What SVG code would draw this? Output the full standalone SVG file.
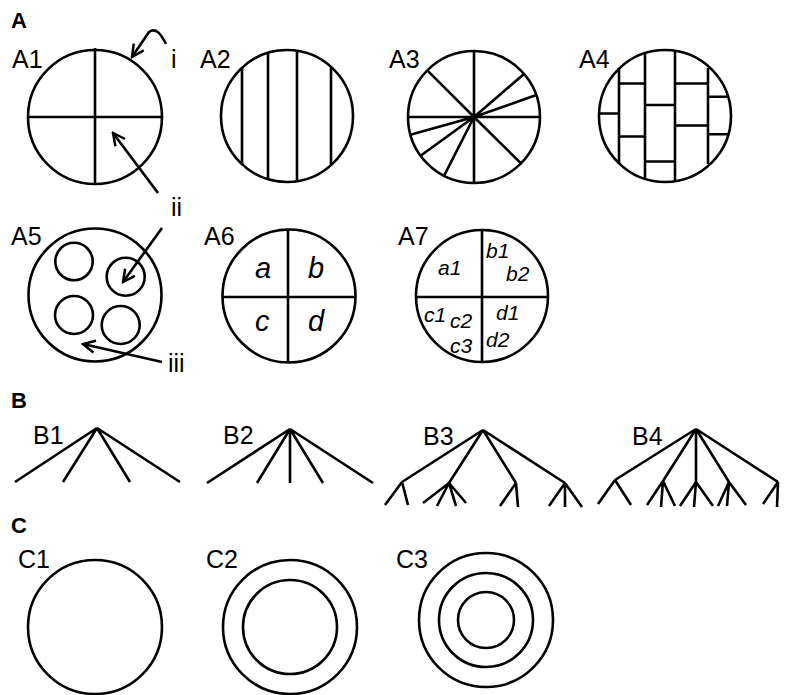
<svg xmlns="http://www.w3.org/2000/svg" width="787" height="695" viewBox="0 0 787 695">
<defs>
<style>
.s{fill:none;stroke:#000;stroke-width:2.6;stroke-linecap:butt}
.t{font-family:"Liberation Sans",Arial,sans-serif;font-size:25px;fill:#000}
.h{font-family:"Liberation Sans",Arial,sans-serif;font-size:22px;font-weight:bold;fill:#000}
.i{font-family:"Liberation Sans",Arial,sans-serif;font-size:29px;font-style:italic;fill:#000}
.j{font-family:"Liberation Sans",Arial,sans-serif;font-size:21px;font-style:italic;fill:#000}
</style>
<marker id="ah" viewBox="0 0 16 16" refX="14" refY="8" markerWidth="16" markerHeight="16" markerUnits="userSpaceOnUse" orient="auto">
<path d="M2,2 L14,8 L2,14" fill="none" stroke="#000" stroke-width="2.5"/>
</marker>
</defs>
<rect width="787" height="695" fill="#fff"/>

<text class="h" x="11" y="28">A</text>
<text class="h" x="11" y="408">B</text>
<text class="h" x="11" y="533">C</text>

<g id="A1">
<text class="t" x="12" y="68">A1</text>
<circle class="s" cx="95" cy="117" r="67"/>
<path class="s" d="M95,48 V184 M28,117 H162"/>
</g>

<g id="A2">
<text class="t" x="200" y="68">A2</text>
<circle class="s" cx="287" cy="116" r="66"/>
<path class="s" d="M242,67.7 V164.3 M268,53 V179 M297,51 V181 M331,67.5 V164.5"/>
</g>

<g id="A3">
<text class="t" x="389" y="68">A3</text>
<circle class="s" cx="474" cy="117" r="66"/>
<path class="s" d="M474,117 L474,51 M474,117 L474,183 M474,117 L408,117 M474,117 L540,117 M474,117 L427.3,70.3 M474,117 L524,74 M474,117 L536.3,95.1 M474,117 L410.4,134.7 M474,117 L420.6,155.8 M474,117 L444,175.8 M474,117 L521,163.4"/>
</g>

<g id="A4">
<text class="t" x="579" y="68">A4</text>
<circle class="s" cx="665" cy="116" r="66"/>
<path class="s" d="M619,68 V164 M645,53 V179 M675,51 V181 M708,68 V164 M619,83.5 H645 M599,113.5 H619 M619,136.5 H645 M645,105 H675 M645,161.5 H675 M675,83.5 H708 M675,125.5 H708 M708,96.7 H728 M708,134.3 H728.4"/>
</g>

<g id="A5">
<text class="t" x="11" y="245">A5</text>
<circle class="s" cx="95" cy="295" r="66.5"/>
<circle class="s" cx="74" cy="261.5" r="18.7"/>
<circle class="s" cx="125.7" cy="276.7" r="19"/>
<circle class="s" cx="74" cy="315" r="19"/>
<circle class="s" cx="120.7" cy="325" r="19"/>
</g>

<g id="A6">
<text class="t" x="204" y="245">A6</text>
<circle class="s" cx="289" cy="296" r="66.5"/>
<path class="s" d="M288,229.5 V362.5 M222.5,297 H355.5"/>
<text class="i" x="255" y="278">a</text>
<text class="i" x="308" y="278">b</text>
<text class="i" x="255" y="331">c</text>
<text class="i" x="308" y="331">d</text>
</g>

<g id="A7">
<text class="t" x="398" y="245">A7</text>
<circle class="s" cx="482" cy="296" r="66"/>
<path class="s" d="M482,230 V362 M416,297 H548"/>
<text class="j" x="438" y="275">a1</text>
<text class="j" x="486" y="258">b1</text>
<text class="j" x="506" y="281">b2</text>
<text class="j" x="424" y="322">c1</text>
<text class="j" x="450" y="328">c2</text>
<text class="j" x="450" y="353">c3</text>
<text class="j" x="496" y="320">d1</text>
<text class="j" x="486" y="347">d2</text>
</g>

<g id="labels">
<text class="t" x="171" y="68">i</text>
<text class="t" x="171" y="216">ii</text>
<text class="t" x="168" y="372">iii</text>
</g>

<g id="B1">
<text class="t" x="33" y="444">B1</text>
<path class="s" d="M97,428 L15,482 M97,428 L63,482 M97,428 L130,482 M97,428 L180,482"/>
</g>

<g id="B2">
<text class="t" x="223" y="444">B2</text>
<path class="s" d="M290,429 L207,483 M290,429 L257,483 M290,429 L290,483 M290,429 L323,483 M290,429 L373,483"/>
</g>

<g id="B3">
<text class="t" x="423" y="445">B3</text>
<path class="s" d="M483,430 L402,482 M483,430 L449,483 M483,430 L516,483 M483,430 L565,483
M402,482 L385,505 M402,482 L408,505
M449,483 L423,503 M449,483 L437,506 M449,483 L456,506 M449,483 L466,503
M516,483 L500,506 M516,483 L518,507
M565,483 L549,506 M565,483 L565,507 M565,483 L582,507"/>
</g>

<g id="B4">
<text class="t" x="632" y="445">B4</text>
<path class="s" d="M696,429 L615,480 M696,429 L663,481 M696,429 L696,482 M696,429 L729,482 M696,429 L778,482
M615,480 L598,504 M615,480 L631,505
M663,481 L647,505 M663,481 L661,507 M663,481 L675,506
M696,482 L680,506 M696,482 L694,507 M696,482 L713,506
M729,482 L718,506 M729,482 L727,506 M729,482 L746,505
M778,482 L763,504 M778,482 L777,507"/>
</g>

<g id="C1">
<text class="t" x="18" y="568">C1</text>
<circle class="s" cx="95" cy="627" r="67"/>
</g>

<g id="C2">
<text class="t" x="206" y="568">C2</text>
<circle class="s" cx="290" cy="627" r="67"/>
<circle class="s" cx="290" cy="627" r="47"/>
</g>

<g id="C3">
<text class="t" x="396" y="568">C3</text>
<circle class="s" cx="486" cy="620" r="67"/>
<circle class="s" cx="486" cy="620" r="47"/>
<circle class="s" cx="486" cy="620" r="28"/>
</g>

<g id="connectors">
<path class="s" d="M166,44 C161,34 156,27 149,32 L132,57" marker-end="url(#ah)"/>
<path class="s" d="M158,193 L113,133" marker-end="url(#ah)"/>
<path class="s" d="M162,228 L123,282" marker-end="url(#ah)"/>
<path class="s" d="M162,362 L83,344" marker-end="url(#ah)"/>
</g>
</svg>
